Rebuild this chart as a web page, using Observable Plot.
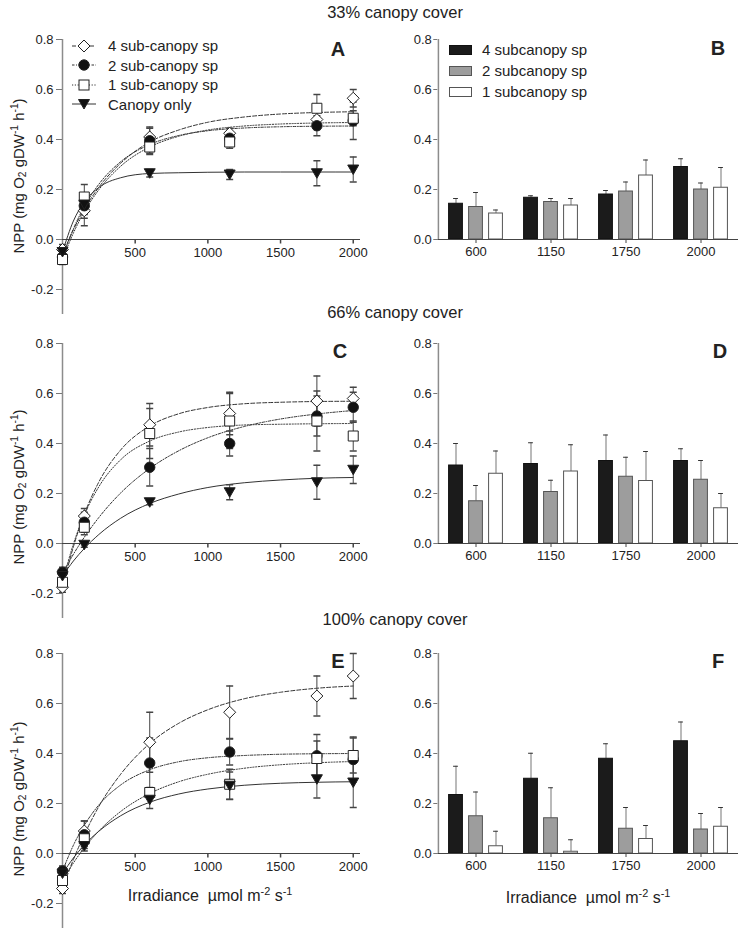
<!DOCTYPE html>
<html><head><meta charset="utf-8">
<script src="https://cdn.jsdelivr.net/npm/d3@7"></script>
<script src="https://cdn.jsdelivr.net/npm/@observablehq/plot@0.6"></script>
<style>
body{margin:0;background:#fff;}
#fig{position:relative;width:745px;height:934px;font-family:"Liberation Sans",Arial,Helvetica,sans-serif;color:#222;overflow:hidden;background:#fff}
.abs{position:absolute;white-space:nowrap;line-height:1}
.plot{position:absolute}
sup{font-size:68%;vertical-align:0.55em;line-height:0}
sub{font-size:68%;vertical-align:-0.25em;line-height:0}
</style></head>
<body><div id="fig"></div>
<script>
// ---------- data ----------
const irradiance = [0, 150, 600, 1150, 1750, 2000];
const fitIrr = [0, 75, 150, 250, 400, 600, 800, 1000, 1250, 1500, 1750, 2000];
const yTicksLine = [-0.2, 0, 0.2, 0.4, 0.6, 0.8];
const yTicksBar = [0, 0.2, 0.4, 0.6, 0.8];
const xTicksLine = [500, 1000, 1500, 2000];
const barIrr = ["600", "1150", "1750", "2000"];
const coverTitles = ["33% canopy cover", "66% canopy cover", "100% canopy cover"];
const lineLegend = ["4 sub-canopy sp", "2 sub-canopy sp", "1 sub-canopy sp", "Canopy only"];
const barLegend = ["4 subcanopy sp", "2 subcanopy sp", "1 subcanopy sp"];

// Panel A (33%)
const A_sp4 = [-0.04, 0.115, 0.41, 0.425, 0.48, 0.565];
const A_sp4_se = [0.02, 0.06, 0.04, 0.02, 0.04, 0.035];
const A_sp2 = [-0.07, 0.135, 0.395, 0.405, 0.455, 0.475];
const A_sp2_se = [0.02, 0.05, 0.05, 0.02, 0.04, 0.075];
const A_sp1 = [-0.08, 0.17, 0.37, 0.39, 0.525, 0.485];
const A_sp1_se = [0.02, 0.05, 0.03, 0.025, 0.055, 0.03];
const A_can = [-0.05, 0.14, 0.265, 0.26, 0.265, 0.28];
const A_can_se = [0.02, 0.04, 0.015, 0.02, 0.05, 0.05];
const A_fit4 = [-0.06, 0.039, 0.121, 0.209, 0.305, 0.39, 0.438, 0.469, 0.49, 0.502, 0.508, 0.511];
const A_fit2 = [-0.07, 0.043, 0.132, 0.221, 0.311, 0.38, 0.416, 0.435, 0.446, 0.451, 0.453, 0.454];
const A_fit1 = [-0.08, 0.026, 0.111, 0.199, 0.293, 0.37, 0.413, 0.438, 0.454, 0.462, 0.466, 0.468];
const A_fitc = [-0.05, 0.074, 0.15, 0.208, 0.247, 0.264, 0.267, 0.269, 0.27, 0.27, 0.27, 0.27];

// Panel C (66%)
const C_sp4 = [-0.175, 0.11, 0.475, 0.52, 0.57, 0.58];
const C_sp4_se = [0.02, 0.03, 0.085, 0.085, 0.1, 0.045];
const C_sp2 = [-0.115, 0.085, 0.305, 0.40, 0.51, 0.545];
const C_sp2_se = [0.02, 0.04, 0.075, 0.05, 0.08, 0.06];
const C_sp1 = [-0.155, 0.065, 0.44, 0.49, 0.49, 0.43];
const C_sp1_se = [0.02, 0.03, 0.1, 0.11, 0.12, 0.06];
const C_can = [-0.13, -0.005, 0.165, 0.205, 0.245, 0.295];
const C_can_se = [0.02, 0.01, 0.01, 0.03, 0.068, 0.055];
const C_fit4 = [-0.18, -0.013, 0.117, 0.246, 0.374, 0.47, 0.519, 0.544, 0.559, 0.565, 0.568, 0.569];
const C_fit2 = [-0.12, -0.043, 0.025, 0.104, 0.202, 0.30, 0.371, 0.423, 0.468, 0.498, 0.518, 0.532];
const C_fit1 = [-0.155, -0.002, 0.114, 0.227, 0.335, 0.41, 0.446, 0.464, 0.474, 0.477, 0.479, 0.48];
const C_fitc = [-0.13, -0.07, -0.02, 0.036, 0.101, 0.16, 0.198, 0.224, 0.243, 0.254, 0.261, 0.264];

// Panel E (100%)
const E_sp4 = [-0.14, 0.09, 0.445, 0.565, 0.63, 0.71];
const E_sp4_se = [0.02, 0.04, 0.12, 0.105, 0.08, 0.09];
const E_sp2 = [-0.07, 0.075, 0.362, 0.406, 0.391, 0.376];
const E_sp2_se = [0.02, 0.055, 0.1, 0.052, 0.085, 0.09];
const E_sp1 = [-0.108, 0.059, 0.244, 0.277, 0.38, 0.392];
const E_sp1_se = [0.02, 0.03, 0.02, 0.06, 0.07, 0.07];
const E_can = [-0.08, 0.03, 0.215, 0.271, 0.297, 0.284];
const E_can_se = [0.02, 0.02, 0.035, 0.055, 0.075, 0.1];
const E_fit4 = [-0.14, -0.024, 0.075, 0.188, 0.317, 0.44, 0.521, 0.575, 0.619, 0.645, 0.661, 0.67];
const E_fit2 = [-0.07, 0.033, 0.113, 0.194, 0.274, 0.335, 0.367, 0.383, 0.392, 0.397, 0.399, 0.40];
const E_fit1 = [-0.11, -0.038, 0.023, 0.09, 0.168, 0.24, 0.287, 0.317, 0.341, 0.355, 0.363, 0.368];
const E_fitc = [-0.08, -0.018, 0.034, 0.089, 0.151, 0.205, 0.238, 0.258, 0.273, 0.281, 0.285, 0.287];

// Bar panels
const B_sp4 = [0.143, 0.167, 0.18, 0.29],  B_sp4_se = [0.021, 0.008, 0.016, 0.033];
const B_sp2 = [0.13, 0.15, 0.192, 0.2],    B_sp2_se = [0.058, 0.014, 0.038, 0.026];
const B_sp1 = [0.104, 0.136, 0.256, 0.207], B_sp1_se = [0.014, 0.028, 0.062, 0.081];
const D_sp4 = [0.312, 0.318, 0.33, 0.33],  D_sp4_se = [0.088, 0.085, 0.104, 0.049];
const D_sp2 = [0.169, 0.206, 0.267, 0.255], D_sp2_se = [0.063, 0.047, 0.078, 0.077];
const D_sp1 = [0.279, 0.288, 0.25, 0.141], D_sp1_se = [0.091, 0.107, 0.118, 0.059];
const F_sp4 = [0.234, 0.299, 0.379, 0.449], F_sp4_se = [0.115, 0.102, 0.06, 0.077];
const F_sp2 = [0.149, 0.141, 0.099, 0.096], F_sp2_se = [0.097, 0.122, 0.085, 0.064];
const F_sp1 = [0.029, 0.007, 0.058, 0.107], F_sp1_se = [0.06, 0.048, 0.054, 0.077];

// ---------- symbols ----------
const symDiamond = {draw(c){c.moveTo(0,-6);c.lineTo(6,0);c.lineTo(0,6);c.lineTo(-6,0);c.closePath();}};
const symSquare = {draw(c){c.moveTo(-5,-5);c.lineTo(5,-5);c.lineTo(5,5);c.lineTo(-5,5);c.closePath();}};
const symCircle = {draw(c){c.moveTo(5.2,0);c.arc(0,0,5.2,0,2*Math.PI);}};
const symTriDown = {draw(c){c.moveTo(-5.5,-4.5);c.lineTo(5.5,-4.5);c.lineTo(0,5);c.closePath();}};
const symCap = {draw(c){c.moveTo(-3.5,0);c.lineTo(3.5,0);}};
const symTick = {draw(c){c.moveTo(0,0);c.lineTo(0,4);}};

const FONT = '"Liberation Sans", Arial, Helvetica, sans-serif';
const fig = document.getElementById("fig");
const rowTop = [38.5, 342.5, 653];

function place(el, left, top) {
  el.classList.add("plot");
  el.style.left = left + "px";
  el.style.top = top + "px";
  fig.appendChild(el);
}

function linePanel(cfg, row) {
  const series = [
    {v: cfg.sp4, se: cfg.sp4se, fit: cfg.fit4, sym: symDiamond, fill: "white", dash: "4,2"},
    {v: cfg.sp2, se: cfg.sp2se, fit: cfg.fit2, sym: symCircle, fill: "#111", dash: "2.5,1.5,1,1.5"},
    {v: cfg.sp1, se: cfg.sp1se, fit: cfg.fit1, sym: symSquare, fill: "white", dash: "1.2,1.6"},
    {v: cfg.can, se: cfg.canse, fit: cfg.fitc, sym: symTriDown, fill: "#111", dash: null}
  ];
  const pts = series.flatMap((s, k) => irradiance.map((x, i) => ({k, x, v: s.v[i], e: s.se[i]})));
  const marks = [
    Plot.ruleX([0], {stroke: "#8c8c8c", strokeWidth: 1.5}),
    Plot.ruleY([0], {stroke: "#444"}),
    Plot.axisY({ticks: yTicksLine, tickSize: 6, tickPadding: 3, tickFormat: d => d.toFixed(1), label: null, fontSize: 13, stroke: "#777", fill: "#222"}),
    Plot.dot(xTicksLine, {x: d => d, y: 0, symbol: symTick, stroke: "#444", fill: "none"}),
    Plot.text(xTicksLine, {x: d => d, y: 0, dy: 13.5, text: d => String(d), fontSize: 13, fill: "#222"})
  ];
  series.forEach(s => {
    marks.push(Plot.line(fitIrr.map((x, i) => ({x, y: s.fit[i]})), {x: "x", y: "y", curve: "monotone-x", stroke: "#333", strokeWidth: 1, strokeDasharray: s.dash}));
  });
  marks.push(Plot.ruleX(pts, {x: "x", y1: d => d.v - d.e, y2: d => d.v + d.e, stroke: "#444"}));
  marks.push(Plot.dot(pts, {x: "x", y: d => d.v + d.e, symbol: symCap, stroke: "#444", fill: "none"}));
  marks.push(Plot.dot(pts, {x: "x", y: d => d.v - d.e, symbol: symCap, stroke: "#444", fill: "none"}));
  series.forEach((s, k) => {
    marks.push(Plot.dot(pts.filter(p => p.k === k), {x: "x", y: "v", symbol: s.sym, fill: s.fill, stroke: "#222", strokeWidth: 1}));
  });
  const svg = Plot.plot({
    width: 370, height: 305, marginLeft: 62, marginRight: 10, marginTop: 20, marginBottom: 10,
    x: {domain: [0, 2050], axis: null},
    y: {domain: [-0.3, 0.8]},
    style: {fontFamily: FONT, fontSize: "13px", color: "#222", background: "transparent", overflow: "visible"},
    marks
  });
  place(svg, 0, rowTop[row] - 20);
}

function barPanel(cfg, row) {
  const width = 365, mL = 57.3, mR = 7;
  const bw = (width - mL - mR) / barIrr.length;
  const inset = (bw - 14) / 2;
  const capInset = bw / 2 - 2.5;
  const groups = [
    {v: cfg.sp4, se: cfg.sp4se, fill: "#1b1b1b", stroke: "#111", dx: -20},
    {v: cfg.sp2, se: cfg.sp2se, fill: "#9d9d9d", stroke: "#555", dx: 0},
    {v: cfg.sp1, se: cfg.sp1se, fill: "#ffffff", stroke: "#555", dx: 20}
  ];
  const marks = [];
  groups.forEach(g => {
    const rows = barIrr.map((c, i) => ({c, v: g.v[i], e: g.se[i]}));
    marks.push(Plot.ruleX(rows, {x: "c", y1: "v", y2: d => d.v + d.e, dx: g.dx, stroke: "#8c8c8c", strokeWidth: 1.2}));
    marks.push(Plot.tickY(rows, {x: "c", y: d => d.v + d.e, dx: g.dx, insetLeft: capInset, insetRight: capInset, stroke: "#333"}));
    marks.push(Plot.barY(rows, {x: "c", y: "v", dx: g.dx, insetLeft: inset, insetRight: inset, fill: g.fill, stroke: g.stroke, strokeWidth: 1}));
  });
  marks.push(Plot.ruleY([0], {stroke: "#444"}));
  marks.push(Plot.ruleX([barIrr[0]], {x: d => d, dx: -bw / 2, stroke: "#8c8c8c", strokeWidth: 1.5}));
  marks.push(Plot.axisY({ticks: yTicksBar, tickSize: 4, tickPadding: 2, tickFormat: d => d.toFixed(1), label: null, fontSize: 13, stroke: "#777", fill: "#222"}));
  marks.push(Plot.axisX({tickSize: 4, tickPadding: 3, label: null, fontSize: 13, stroke: "#444", fill: "#222"}));
  const svg = Plot.plot({
    width, height: 250, marginLeft: mL, marginRight: mR, marginTop: 20, marginBottom: 30,
    x: {domain: barIrr, padding: 0},
    y: {domain: [0, 0.8]},
    style: {fontFamily: FONT, fontSize: "13px", color: "#222", background: "transparent", overflow: "visible"},
    marks
  });
  place(svg, 380, rowTop[row] - 20);
}

linePanel({sp4: A_sp4, sp4se: A_sp4_se, sp2: A_sp2, sp2se: A_sp2_se, sp1: A_sp1, sp1se: A_sp1_se, can: A_can, canse: A_can_se, fit4: A_fit4, fit2: A_fit2, fit1: A_fit1, fitc: A_fitc}, 0);
linePanel({sp4: C_sp4, sp4se: C_sp4_se, sp2: C_sp2, sp2se: C_sp2_se, sp1: C_sp1, sp1se: C_sp1_se, can: C_can, canse: C_can_se, fit4: C_fit4, fit2: C_fit2, fit1: C_fit1, fitc: C_fitc}, 1);
linePanel({sp4: E_sp4, sp4se: E_sp4_se, sp2: E_sp2, sp2se: E_sp2_se, sp1: E_sp1, sp1se: E_sp1_se, can: E_can, canse: E_can_se, fit4: E_fit4, fit2: E_fit2, fit1: E_fit1, fitc: E_fitc}, 2);
barPanel({sp4: B_sp4, sp4se: B_sp4_se, sp2: B_sp2, sp2se: B_sp2_se, sp1: B_sp1, sp1se: B_sp1_se}, 0);
barPanel({sp4: D_sp4, sp4se: D_sp4_se, sp2: D_sp2, sp2se: D_sp2_se, sp1: D_sp1, sp1se: D_sp1_se}, 1);
barPanel({sp4: F_sp4, sp4se: F_sp4_se, sp2: F_sp2, sp2se: F_sp2_se, sp1: F_sp1, sp1se: F_sp1_se}, 2);

// ---------- text overlays ----------
function addText(html, left, top, size, opts = {}) {
  const d = document.createElement("div");
  d.className = "abs";
  d.innerHTML = html;
  d.style.left = left + "px";
  d.style.top = top + "px";
  d.style.fontSize = size + "px";
  if (opts.bold) d.style.fontWeight = "bold";
  if (opts.center) d.style.transform = "translateX(-50%)";
  if (opts.rotate) d.style.transform = "translate(-50%,-50%) rotate(-90deg)";
  fig.appendChild(d);
  return d;
}
const titleTops = [3.5, 304, 611];
coverTitles.forEach((t, i) => addText(t, 395, titleTops[i], 16.5, {center: true}));

const letters = [["A", 338, 39], ["C", 340, 341], ["E", 338, 651], ["B", 718, 38], ["D", 720, 341], ["F", 718, 651]];
letters.forEach(([t, x, y]) => addText(t, x, y, 20, {bold: true, center: true}));

const ylab = 'NPP (mg O<sub>2</sub> gDW<sup>-1</sup> h<sup>-1</sup>)';
[176, 487, 799].forEach(y => addText(ylab, 18, y, 15, {rotate: true}));

const xlab = 'Irradiance&nbsp;&nbsp;\u00b5mol m<sup>-2</sup> s<sup>-1</sup>';
addText(xlab, 210, 887.5, 16, {center: true});
addText(xlab, 588, 889.5, 16, {center: true});

// line legend (panel A)
const legRows = [45.7, 65.2, 84.6, 104];
const legDash = ["4,2", "2.5,1.5,1,1.5", "1.2,1.6", null];
const legShape = [
  '<path d="M14,1L20,7L14,13L8,7Z" fill="white" stroke="#222"/>',
  '<circle cx="14" cy="7" r="5.2" fill="#111" stroke="#222"/>',
  '<rect x="9" y="2" width="10" height="10" fill="white" stroke="#222"/>',
  '<path d="M8.5,2.5L19.5,2.5L14,12Z" fill="#111" stroke="#222"/>'
];
lineLegend.forEach((t, i) => {
  const s = document.createElementNS("http://www.w3.org/2000/svg", "svg");
  s.setAttribute("width", 28); s.setAttribute("height", 14);
  s.setAttribute("class", "abs");
  s.style.left = "70px"; s.style.top = (legRows[i] - 7) + "px";
  s.innerHTML = `<line x1="2" y1="7" x2="26" y2="7" stroke="#333" ${legDash[i] ? `stroke-dasharray="${legDash[i]}"` : ""}/>` + legShape[i];
  fig.appendChild(s);
  addText(t, 108, legRows[i] - 7.3, 15);
});

// bar legend (panel B)
const barLegRows = [49.5, 70.5, 91];
const barLegFill = ["#1b1b1b", "#9d9d9d", "#ffffff"];
const barLegStroke = ["#111", "#555", "#555"];
barLegend.forEach((t, i) => {
  const b = document.createElement("div");
  b.className = "abs";
  b.style.left = "449px"; b.style.top = (barLegRows[i] - 4.5) + "px";
  b.style.width = "21px"; b.style.height = "8px";
  b.style.background = barLegFill[i];
  b.style.border = "1px solid " + barLegStroke[i];
  fig.appendChild(b);
  addText(t, 482, barLegRows[i] - 7.3, 15);
});
</script>
</body></html>
